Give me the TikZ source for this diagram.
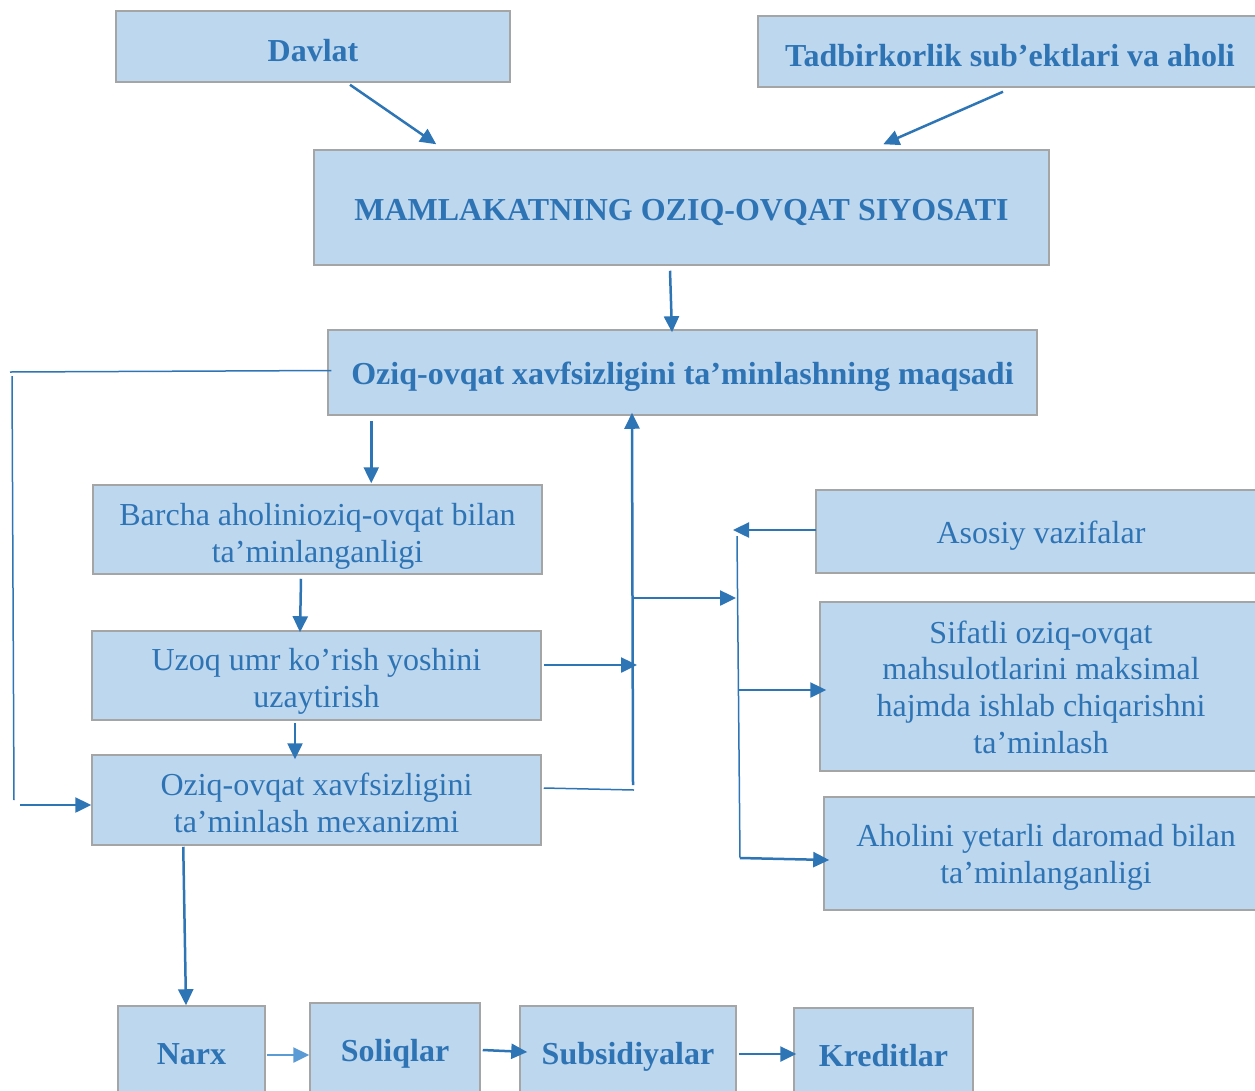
\documentclass[tikz,border=0pt]{standalone}
\usepackage{fontspec}
\setmainfont{Liberation Serif}
\usetikzlibrary{arrows.meta,calc}
\definecolor{boxfill}{HTML}{BDD7EE}
\definecolor{boxline}{HTML}{A5A5A5}
\definecolor{txt}{HTML}{2E74B5}
\definecolor{arrc}{HTML}{2E75B6}
\definecolor{arrlight}{HTML}{5B9BD5}
\newcommand{\lift}[1]{\rule{0pt}{#1pt}}
\tikzset{
  box/.style={draw=boxline, fill=boxfill, line width=1.5pt, inner sep=2pt, align=center,
    text=txt, font=\fontsize{32}{36.8}\selectfont},
  sbox/.style={box, execute at begin node={\rule{0pt}{30.5pt}}},
  bbox/.style={sbox, font=\fontsize{32}{36.8}\selectfont\bfseries},
  arr/.style={draw=arrc, line width=2.5pt, -{Triangle[length=16pt,width=15pt]}},
  arrl/.style={draw=arrlight, line width=2.5pt, -{Triangle[length=16pt,width=15pt]}},
  thinln/.style={draw=arrc, line width=1.5pt},
}
\begin{document}
\begin{tikzpicture}[x=1pt,y=-1pt]
\useasboundingbox (0,0) rectangle (1255,1090);
\clip (0,0) rectangle (1255,1090);
% top
\node[bbox, minimum width=394, minimum height=71] (davlat) at (313,46.5) {Davlat};
\node[bbox, minimum width=504, minimum height=71] (tad) at (1010,51.5) {Tadbirkorlik sub’ektlari va aholi};
\node[bbox, minimum width=735, minimum height=115] (mam) at (681.5,207.5) {MAMLAKATNING OZIQ-OVQAT SIYOSATI};
\node[bbox, minimum width=709, minimum height=85] (maq) at (682.5,372.5) {Oziq-ovqat xavfsizligini ta’minlashning maqsadi};
% left column
\node[box, minimum width=449, minimum height=89] (barcha) at (317.5,529.5) {\lift{36}Barcha aholinioziq-ovqat bilan\\ta’minlanganligi};
\node[box, minimum width=449, minimum height=89] (uzoq) at (316.5,675.5) {\lift{34}Uzoq umr ko’rish yoshini\\uzaytirish};
\node[box, minimum width=449, minimum height=90] (mex) at (316.5,800) {\lift{29}Oziq-ovqat xavfsizligini\\ta’minlash mexanizmi};
% right column
\node[sbox, minimum width=450, minimum height=83] (asosiy) at (1041,531.5) {Asosiy vazifalar};
\node[box, minimum width=442, minimum height=169] (sifatli) at (1041,686.5) {\lift{24}Sifatli oziq-ovqat\\mahsulotlarini maksimal\\hajmda ishlab chiqarishni\\ta’minlash};
\node[box, minimum width=444, minimum height=113] (aholini) at (1046,853.5) {\lift{30}Aholini yetarli daromad bilan\\ta’minlanganligi};
% bottom row
\node[bbox, minimum width=147, minimum height=86] (narx) at (191.5,1049) {Narx};
\node[bbox, minimum width=170, minimum height=94] (soliq) at (395,1050) {Soliqlar};
\node[bbox, minimum width=216, minimum height=94] (subs) at (628,1053) {Subsidiyalar};
\node[bbox, minimum width=179, minimum height=86] (kred) at (883.5,1051) {Kreditlar};
% coordinates
\coordinate (lp1) at (10,372);
\coordinate (lp2) at (12,376);
\coordinate (lp3) at (14,800);
\coordinate (lp4) at (20,805);
\coordinate (j1) at (637,665);
\coordinate (j2) at (634,790);
\coordinate (j2b) at (633,785);
\coordinate (j3) at (634,598);
\coordinate (j4) at (736,598);
\coordinate (j5) at (733,530);
\coordinate (v1) at (737,536);
\coordinate (v2) at (740,858);
\coordinate (v3) at (738,690);
% connectors
\draw[arr] ($(davlat.south)+(37,2)$) -- ($(mam.north west)+(123,-5)$);
\draw[arr] ($(tad.south)+(-7,4)$) -- ($(mam.north west)+(570,-5)$);
\draw[arr] ($(mam.south)+(-11.5,5)$) -- ($(maq.north)+(-10.5,3)$);
\draw[thinln] ($(maq.west)+(4,-2)$) -- (lp1);
\draw[thinln] (lp2) -- (lp3);
\draw[arr] (lp4) -- ($(mex.west)+(0,5)$);
\draw[arr] ($(maq.south west)+(44,5)$) -- ($(barcha.north west)+(279,-1)$);
\draw[arr] ($(barcha.south)+(-16.5,4)$) -- ($(uzoq.north)+(-16.5,2)$);
\draw[arr] ($(uzoq.south)+(-21.5,2)$) -- ($(mex.north)+(-21.5,5)$);
\draw[arr] ($(mex.south west)+(92,1)$) -- ($(narx.north)+(-5.5,0)$);
\draw[arr] ($(uzoq.east)+(2,-10.5)$) -- (j1);
\draw[thinln] ($(mex.east)+(2,-12)$) -- (j2);
\draw[arr] (j2b) -- ($(maq.south)+(-50.5,-3)$);
\draw[arr] (j3) -- (j4);
\draw[arr] ($(asosiy.west)+(1,-1.5)$) -- (j5);
\draw[thinln] (v1) -- (v2);
\draw[arr] (v3) -- ($(sifatli.west)+(7,3.5)$);
\draw[arr] (v2) -- ($(aholini.west)+(6,6.5)$);
\draw[arrl] ($(narx.east)+(1,6)$) -- ($(soliq.west)+(0,5)$);
\draw[arr] ($(soliq.east)+(2,0)$) -- ($(subs.west)+(8,-1)$);
\draw[arr] ($(subs.east)+(2,1)$) -- ($(kred.west)+(3,3)$);
\end{tikzpicture}
\end{document}
